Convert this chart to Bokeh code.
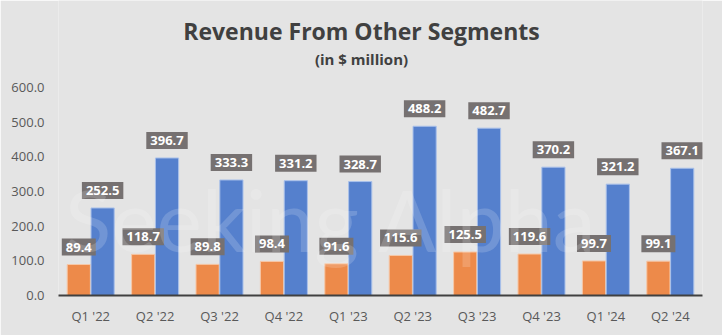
from bokeh.plotting import figure
from bokeh.models import ColumnDataSource, FactorRange, Range1d, Label, NumeralTickFormatter, FixedTicker
from bokeh.transform import dodge
from bokeh.core.properties import value
from bokeh.embed import file_html
from bokeh.resources import INLINE

quarters = ["Q1 '22", "Q2 '22", "Q3 '22", "Q4 '22", "Q1 '23", "Q2 '23", "Q3 '23", "Q4 '23", "Q1 '24", "Q2 '24"]
series_orange = [89.4, 118.7, 89.8, 98.4, 91.6, 115.6, 125.5, 119.6, 99.7, 99.1]
series_blue = [252.5, 396.7, 333.3, 331.2, 328.7, 488.2, 482.7, 370.2, 321.2, 367.1]
y_ticks = [0, 100, 200, 300, 400, 500, 600]

src = ColumnDataSource(dict(
    q=quarters,
    o=series_orange,
    b=series_blue,
    ot=[f"{v:.1f}" for v in series_orange],
    bt=[f"{v:.1f}" for v in series_blue],
))

FL, FB = 58, 295  # frame left / bottom in canvas pixels

BG = "#e4e4e4"
p = figure(width=722, height=335, x_range=FactorRange(*quarters, range_padding=0),
           y_range=Range1d(0, 851), output_backend="svg", toolbar_location=None,
           min_border_left=FL, min_border_right=20, min_border_top=0, min_border_bottom=40)
p.x_range.range_padding = 0
p.background_fill_color = BG
p.border_fill_color = BG
p.outline_line_color = None
p.grid.grid_line_color = None

p.vbar(x=dodge("q", -0.185, range=p.x_range), top="o", width=0.36, source=src,
       fill_color="#ED8A4A", line_color="#f6c8a8", line_width=1)
p.vbar(x=dodge("q", 0.185, range=p.x_range), top="b", width=0.36, source=src,
       fill_color="#5580CD", line_color="#a9c0ea", line_width=1)

p.add_layout(Label(x=331 - FL, y=FB - 218, x_units="screen", y_units="screen", text="Seeking Alpha",
                   text_font="Lato", text_font_size="86px", text_color="white", text_alpha=0.17,
                   text_align="center", text_baseline="alphabetic"))

for col, txt, off in (("o", "ot", -0.185), ("b", "bt", 0.185)):
    p.text(x=dodge("q", off, range=p.x_range), y=col, text=txt, source=src,
           text_font=value("Open Sans"), text_font_style="bold", text_font_size="13px",
           text_color="white", text_align="center", text_baseline="bottom",
           y_offset=-9, background_fill_color="#767171", padding=4)

p.yaxis.ticker = FixedTicker(ticks=y_ticks)
p.yaxis.formatter = NumeralTickFormatter(format="0.0")
p.yaxis.axis_line_color = None
p.yaxis.major_tick_line_color = None
p.yaxis.minor_tick_line_color = None
p.yaxis.major_label_text_font = "Open Sans"
p.yaxis.major_label_text_font_size = "13px"
p.yaxis.major_label_text_color = "#595959"
p.yaxis.major_label_standoff = 8

p.xaxis.axis_line_color = "#404040"
p.xaxis.axis_line_width = 2
p.xaxis.major_tick_line_color = None
p.xaxis.minor_tick_line_color = None
p.xaxis.major_label_text_font = "Open Sans"
p.xaxis.major_label_text_font_size = "13px"
p.xaxis.major_label_text_color = "#595959"
p.xaxis.major_label_standoff = 5

p.add_layout(Label(x=361 - FL, y=FB - 30, x_units="screen", y_units="screen", text="Revenue From Other Segments",
                   text_font="Open Sans", text_font_style="bold", text_font_size="23px",
                   text_color="#404040", text_align="center", text_baseline="middle"))
p.add_layout(Label(x=361 - FL, y=FB - 58, x_units="screen", y_units="screen", text="(in $ million)",
                   text_font="Open Sans", text_font_style="bold", text_font_size="15px",
                   text_color="#404040", text_align="center", text_baseline="middle"))

open("out.html", "w").write(file_html(p, INLINE))
